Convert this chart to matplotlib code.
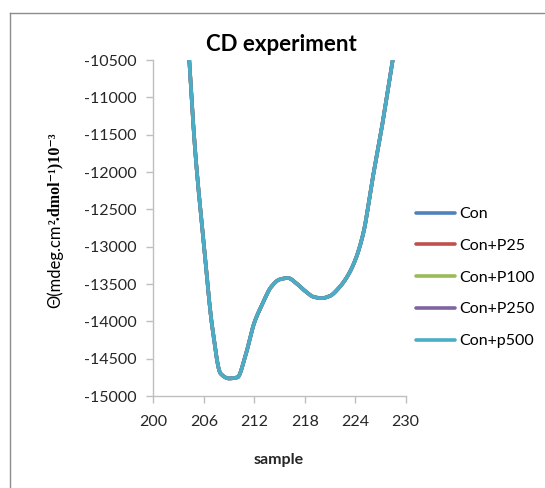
import numpy as np
import matplotlib
matplotlib.use("Agg")
import matplotlib.pyplot as plt

wavelength = [204, 205, 206, 207, 208, 209, 210, 211, 212, 213, 214, 215, 216,
              217, 218, 219, 220, 221, 222, 223, 224, 225, 226, 227, 228, 229]
con = [-10000, -11750, -12960, -14070, -14700, -14765, -14750, -14440, -14020,
       -13760, -13540, -13440, -13420, -13490, -13590, -13670, -13690, -13660,
       -13560, -13410, -13180, -12800, -12130, -11510, -10820, -10120]
series_names = ["Con", "Con+P25", "Con+P100", "Con+P250", "Con+p500"]
series_values = [con, con, con, con, con]
colors = ["#4F81BD", "#C0504D", "#9BBB59", "#8064A2", "#4BACC6"]
xticks = [200, 206, 212, 218, 224, 230]
yticks = [-15000, -14500, -14000, -13500, -13000, -12500, -12000, -11500, -11000, -10500]


def smooth(xs, ys, n=20):
    # shape-preserving cubic (PCHIP) rendering of the line, drawn through the points
    xs = np.asarray(xs, float); ys = np.asarray(ys, float)
    h = np.diff(xs)
    dl = np.diff(ys) / h
    d = np.zeros_like(ys)
    for k in range(1, len(ys) - 1):
        if dl[k - 1] * dl[k] > 0:
            w1 = 2 * h[k] + h[k - 1]
            w2 = h[k] + 2 * h[k - 1]
            d[k] = (w1 + w2) / (w1 / dl[k - 1] + w2 / dl[k])
    d[0] = dl[0]
    d[-1] = dl[-1]
    ox, oy = [], []
    t = np.linspace(0, 1, n, endpoint=False)
    for k in range(len(xs) - 1):
        h00 = 2 * t ** 3 - 3 * t ** 2 + 1
        h10 = t ** 3 - 2 * t ** 2 + t
        h01 = -2 * t ** 3 + 3 * t ** 2
        h11 = t ** 3 - t ** 2
        ox.extend(xs[k] + t * h[k])
        oy.extend(h00 * ys[k] + h10 * h[k] * d[k] + h01 * ys[k + 1] + h11 * h[k] * d[k + 1])
    ox.append(xs[-1]); oy.append(ys[-1])
    return np.array(ox), np.array(oy)


W, H = 545, 488
fig = plt.figure(figsize=(W / 100, H / 100), dpi=100)
font = "Lato"

ax = fig.add_axes([153.3 / W, (H - 396) / H, (405.7 - 153.3) / W, (396 - 60) / H])
for name, vals, c in zip(series_names, series_values, colors):
    sx, sy = smooth(wavelength, vals)
    ax.plot(sx, sy, color=c, lw=2.6, label=name, solid_capstyle="round")

ax.set_xlim(200, 230)
ax.set_ylim(-15000, -10500)
ax.set_xticks(xticks)
ax.set_yticks(yticks)
ax.set_xticklabels([str(v) for v in xticks], family=font, fontsize=11.5)
ax.set_yticklabels([str(v) for v in yticks], family=font, fontsize=11.5)
for s in ["top", "right"]:
    ax.spines[s].set_visible(False)
for s in ["left", "bottom"]:
    ax.spines[s].set_color("#BFBFBF")
    ax.spines[s].set_linewidth(1.0)
ax.tick_params(axis="both", direction="out", length=5, width=1.0, color="#BFBFBF",
               labelcolor="#262626")
ax.tick_params(axis="y", pad=7)
ax.tick_params(axis="x", pad=9)

fig.text(281 / W, (H - 44.5) / H, "CD experiment", family=font, fontweight="bold",
         fontsize=16, ha="center", va="center", color="black")

fig.text(279 / W, (H - 460) / H, "sample", family=font, fontweight="bold",
         fontsize=11.5, ha="center", va="center", color="#262626")

# y label in two fonts
t1 = fig.text(55 / W, (H - 308) / H, "\u0398(mdeg.cm", family=font, fontsize=12,
              rotation=90, rotation_mode="anchor", ha="left", va="center", color="black")
fig.canvas.draw()
ext = t1.get_window_extent(fig.canvas.get_renderer())
fig.text(55 / W, (H - 308 + ext.height) / H, "\u00b2.dmol\u207b\u00b9)10\u207b\u00b3",
         family=["Liberation Serif", "DejaVu Serif"], fontweight="bold", fontsize=11.5,
         rotation=90, rotation_mode="anchor", ha="left", va="center", color="black")

handles, labels = ax.get_legend_handles_labels()
leg = fig.legend(handles, labels, loc="center left",
                 bbox_to_anchor=(410 / W, (H - 277.5) / H), frameon=False,
                 prop={"family": font, "size": 11.5}, handlelength=2.4,
                 handletextpad=0.3, labelspacing=1.1, borderaxespad=0)
for line in leg.get_lines():
    line.set_linewidth(2.6)

# outer chart border
fig.add_artist(plt.Line2D([10.4 / W, 10.4 / W], [0, (H - 12.5) / H],
                          transform=fig.transFigure, color="#8C8C8C", lw=1))
fig.add_artist(plt.Line2D([10.4 / W, 1], [(H - 12.5) / H, (H - 12.5) / H],
                          transform=fig.transFigure, color="#8C8C8C", lw=1))

fig.savefig("out.png", dpi=100)
